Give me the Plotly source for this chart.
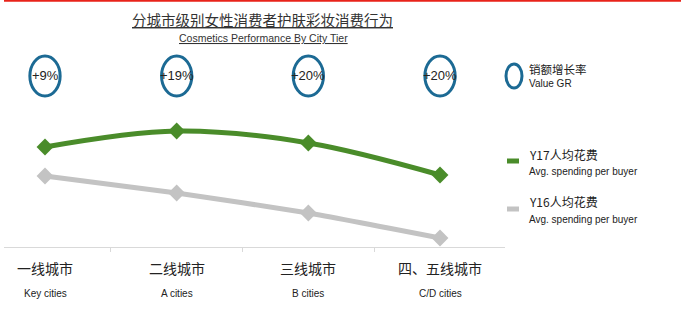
import plotly.graph_objects as go

# City tiers
tiers_cn = ["一线城市", "二线城市", "三线城市", "四、五线城市"]
tiers_en = ["Key cities", "A cities", "B cities", "C/D cities"]

# Value growth rate per tier
value_gr = ["+9%", "+19%", "+20%", "+20%"]

# Average spending per buyer (index)
y17_spend = [100, 116, 104, 72]
y16_spend = [71, 54, 34, 9]

W, H = 681, 330
GREEN = "#4a8c2a"
GREY = "#c3c3c3"
BLUE = "#1c6a94"
CJK = "Noto Sans CJK SC"
NARROW = "Liberation Sans Narrow, Arial Narrow, Liberation Sans"

x = list(range(len(tiers_cn)))

def px(xp):
    return xp / W

def py(yp):
    return 1 - yp / H

fig = go.Figure()

fig.add_trace(go.Scatter(
    x=x, y=y16_spend, mode="lines+markers",
    line=dict(color=GREY, width=5, shape="spline", smoothing=0.5),
    marker=dict(symbol="diamond", size=13, color=GREY),
    showlegend=False, hoverinfo="skip"))
fig.add_trace(go.Scatter(
    x=x, y=y17_spend, mode="lines+markers",
    line=dict(color=GREEN, width=5, shape="spline", smoothing=1.0),
    marker=dict(symbol="diamond", size=13, color=GREEN),
    showlegend=False, hoverinfo="skip"))

shapes = []
annotations = []

# red rule along the top
shapes.append(dict(type="line", xref="paper", yref="paper",
                   x0=px(4), x1=1, y0=py(0.8), y1=py(0.8),
                   line=dict(color="#e8231a", width=2)))

# title
annotations.append(dict(xref="paper", yref="paper", x=px(262), y=py(20),
                        text="<u>分城市级别女性消费者护肤彩妆消费行为</u>",
                        showarrow=False, xanchor="center", yanchor="middle",
                        font=dict(family=CJK, size=14.5, color="#333333")))
annotations.append(dict(xref="paper", yref="paper", x=px(263), y=py(38),
                        text="<u>Cosmetics Performance By City Tier</u>",
                        showarrow=False, xanchor="center", yanchor="middle",
                        font=dict(family=NARROW, size=10.5, color="#333333")))

# growth-rate bubbles above each tier
for i, g in zip(x, value_gr):
    shapes.append(dict(type="circle", xref="x", yref="paper",
                       x0=i - 0.115, x1=i + 0.115, y0=py(96), y1=py(56),
                       line=dict(color=BLUE, width=3)))
    annotations.append(dict(xref="x", yref="paper", x=i, y=py(75), text=g,
                            showarrow=False, xanchor="center", yanchor="middle",
                            font=dict(family=NARROW, size=13, color="#222222")))

# category labels
for i, cn, en in zip(x, tiers_cn, tiers_en):
    annotations.append(dict(xref="x", yref="paper", x=i, y=py(268), text=cn,
                            showarrow=False, xanchor="center", yanchor="middle",
                            font=dict(family=CJK, size=14, color="#222222")))
    annotations.append(dict(xref="x", yref="paper", x=i, y=py(293), text=en,
                            showarrow=False, xanchor="center", yanchor="middle",
                            font=dict(family=NARROW, size=10, color="#222222")))

# legend
shapes.append(dict(type="circle", xref="paper", yref="paper",
                   x0=px(506), x1=px(522), y0=py(88), y1=py(64),
                   line=dict(color=BLUE, width=3)))
annotations.append(dict(xref="paper", yref="paper", x=px(527), y=py(69),
                        text="销额增长率", showarrow=False, xanchor="left", yanchor="middle",
                        font=dict(family=CJK, size=11.5, color="#222222")))
annotations.append(dict(xref="paper", yref="paper", x=px(527), y=py(84),
                        text="Value GR", showarrow=False, xanchor="left", yanchor="middle",
                        font=dict(family=NARROW, size=10, color="#222222")))

for yc, col, name in [(161, GREEN, "Y17人均花费"), (209, GREY, "Y16人均花费")]:
    shapes.append(dict(type="rect", xref="paper", yref="paper",
                       x0=px(507), x1=px(519), y0=py(yc + 2.5), y1=py(yc - 2.5),
                       line=dict(width=0), fillcolor=col))
    annotations.append(dict(xref="paper", yref="paper", x=px(527), y=py(yc - 7),
                            text=name, showarrow=False, xanchor="left", yanchor="middle",
                            font=dict(family=CJK, size=12, color="#222222")))
    annotations.append(dict(xref="paper", yref="paper", x=px(527), y=py(yc + 10),
                            text="Avg. spending per buyer", showarrow=False,
                            xanchor="left", yanchor="middle",
                            font=dict(family=NARROW, size=10, color="#222222")))

x0p, x1p = 4, 505
c0, step = 45, 131.67
fig.update_layout(
    width=W, height=H,
    margin=dict(l=0, r=0, t=0, b=0),
    paper_bgcolor="white", plot_bgcolor="white",
    shapes=shapes, annotations=annotations,
    xaxis=dict(domain=[px(x0p), px(x1p)],
               range=[(x0p - c0) / step, (x1p - c0) / step],
               showgrid=False, zeroline=False,
               showline=True, linecolor="#d9d9d9", linewidth=1,
               tickvals=[0.5, 1.5, 2.5, 3.5], ticks="outside", ticklen=4,
               tickcolor="#d9d9d9", showticklabels=False),
    yaxis=dict(domain=[py(247), py(40)], range=[0, 207],
               visible=False),
)

fig.write_html("out.html")
